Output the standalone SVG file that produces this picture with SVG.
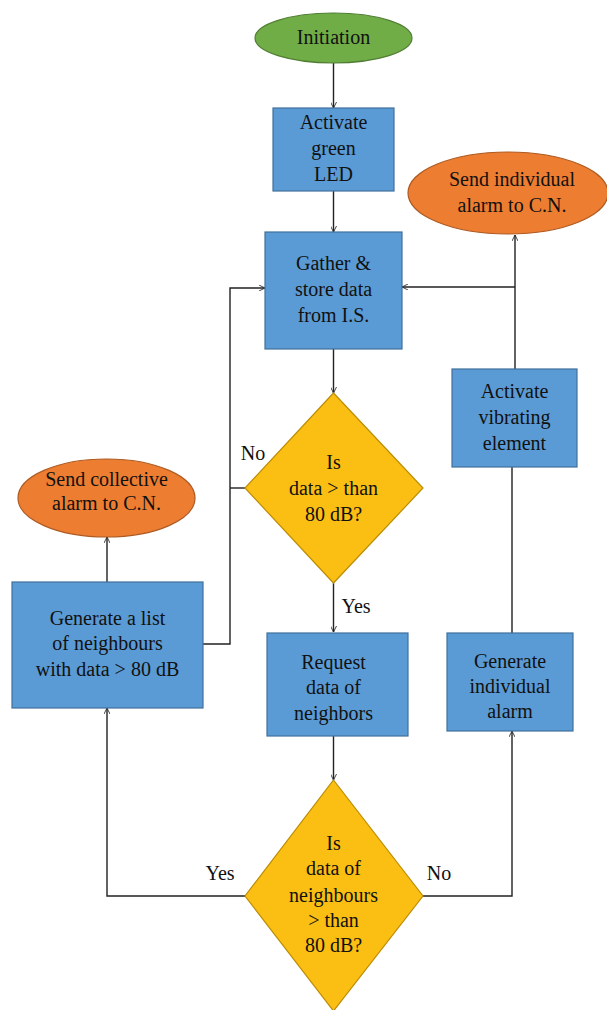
<svg xmlns="http://www.w3.org/2000/svg" width="607" height="1010" viewBox="0 0 607 1010">
<style>
text{font-family:'Liberation Serif','DejaVu Serif',serif;font-size:20px;fill:#111;text-anchor:middle}
.blue{fill:#5B9BD5;stroke:#41719C;stroke-width:1.2}
.green{fill:#70AD47;stroke:#507E32;stroke-width:1.2}
.orange{fill:#ED7D31;stroke:#AE5A21;stroke-width:1.2}
.yellow{fill:#FBBF14;stroke:#BC8C00;stroke-width:1.2}
.conn{fill:none;stroke:#222;stroke-width:1.4}
</style>
<defs>
<marker id="arr" viewBox="0 0 10 10" refX="10" refY="5" markerWidth="6" markerHeight="6" orient="auto" markerUnits="userSpaceOnUse">
<path d="M0,0 L10,5 L0,10" fill="none" stroke="#222" stroke-width="1.4"/>
</marker>
</defs>
<rect width="607" height="1010" fill="#fff"/>
<g id="connectors" font-family="Liberation Serif, serif">
<path class="conn" d="M333.5,63 V108" marker-end="url(#arr)"/>
<path class="conn" d="M333.5,191 V232" marker-end="url(#arr)"/>
<path class="conn" d="M333.5,349 V393" marker-end="url(#arr)"/>
<path class="conn" d="M333.5,583 V632" marker-end="url(#arr)"/>
<path class="conn" d="M333.5,736 V780" marker-end="url(#arr)"/>
<path class="conn" d="M245,488 H230"/>
<path class="conn" d="M203,644 H230 V288 H265" marker-end="url(#arr)"/>
<path class="conn" d="M107,582 V537" marker-end="url(#arr)"/>
<path class="conn" d="M245,896 H107 V708" marker-end="url(#arr)"/>
<path class="conn" d="M423,896 H512 V731" marker-end="url(#arr)"/>
<path class="conn" d="M512,633 V467"/>
<path class="conn" d="M515,369 V235" marker-end="url(#arr)"/>
<path class="conn" d="M515,287 H402" marker-end="url(#arr)"/>
<text x="253" y="460">No</text>
<text x="356" y="613">Yes</text>
<text x="220" y="880">Yes</text>
<text x="439" y="880">No</text>
</g>
<g id="initiation">
<ellipse class="green" cx="333.5" cy="38" rx="78.5" ry="25"/>
<text x="333.5" y="44">Initiation</text>
</g>
<g id="activate-led">
<rect class="blue" x="273" y="108" width="121" height="83"/>
<text x="333.5" y="129">Activate</text>
<text x="333.5" y="155">green</text>
<text x="333.5" y="181">LED</text>
</g>
<g id="gather">
<rect class="blue" x="265" y="232" width="137" height="117"/>
<text x="333.5" y="270">Gather &amp;</text>
<text x="333.5" y="296">store data</text>
<text x="333.5" y="322">from I.S.</text>
</g>
<g id="decision1">
<polygon class="yellow" points="333.5,393 423,488 333.5,583 245,488"/>
<text x="333.5" y="469">Is</text>
<text x="333.5" y="495">data &gt; than</text>
<text x="333.5" y="521">80 dB?</text>
</g>
<g id="request">
<rect class="blue" x="267" y="633" width="141" height="103"/>
<text x="333.5" y="669">Request</text>
<text x="333.5" y="694">data of</text>
<text x="333.5" y="720">neighbors</text>
</g>
<g id="decision2">
<polygon class="yellow" points="333.5,780 423,896 333.5,1011 245,896"/>
<text x="333.5" y="850">Is</text>
<text x="333.5" y="875">data of</text>
<text x="333.5" y="902">neighbours</text>
<text x="333.5" y="927">&gt; than</text>
<text x="333.5" y="952">80 dB?</text>
</g>
<g id="generate-individual">
<rect class="blue" x="447" y="633" width="126" height="98"/>
<text x="510" y="668">Generate</text>
<text x="510" y="693">individual</text>
<text x="510" y="718">alarm</text>
</g>
<g id="activate-vibrating">
<rect class="blue" x="452" y="369" width="125" height="98"/>
<text x="514.5" y="398">Activate</text>
<text x="514.5" y="424">vibrating</text>
<text x="514.5" y="450">element</text>
</g>
<g id="send-individual">
<ellipse class="orange" cx="508" cy="193" rx="100" ry="41"/>
<text x="512" y="186">Send individual</text>
<text x="512" y="212">alarm to C.N.</text>
</g>
<g id="generate-list">
<rect class="blue" x="12" y="582" width="191" height="126"/>
<text x="107.5" y="625">Generate a list</text>
<text x="107.5" y="650">of neighbours</text>
<text x="107.5" y="676">with data &gt; 80 dB</text>
</g>
<g id="send-collective">
<ellipse class="orange" cx="106.5" cy="498" rx="88.5" ry="39"/>
<text x="106.5" y="486">Send collective</text>
<text x="106.5" y="510">alarm to C.N.</text>
</g>
</svg>
